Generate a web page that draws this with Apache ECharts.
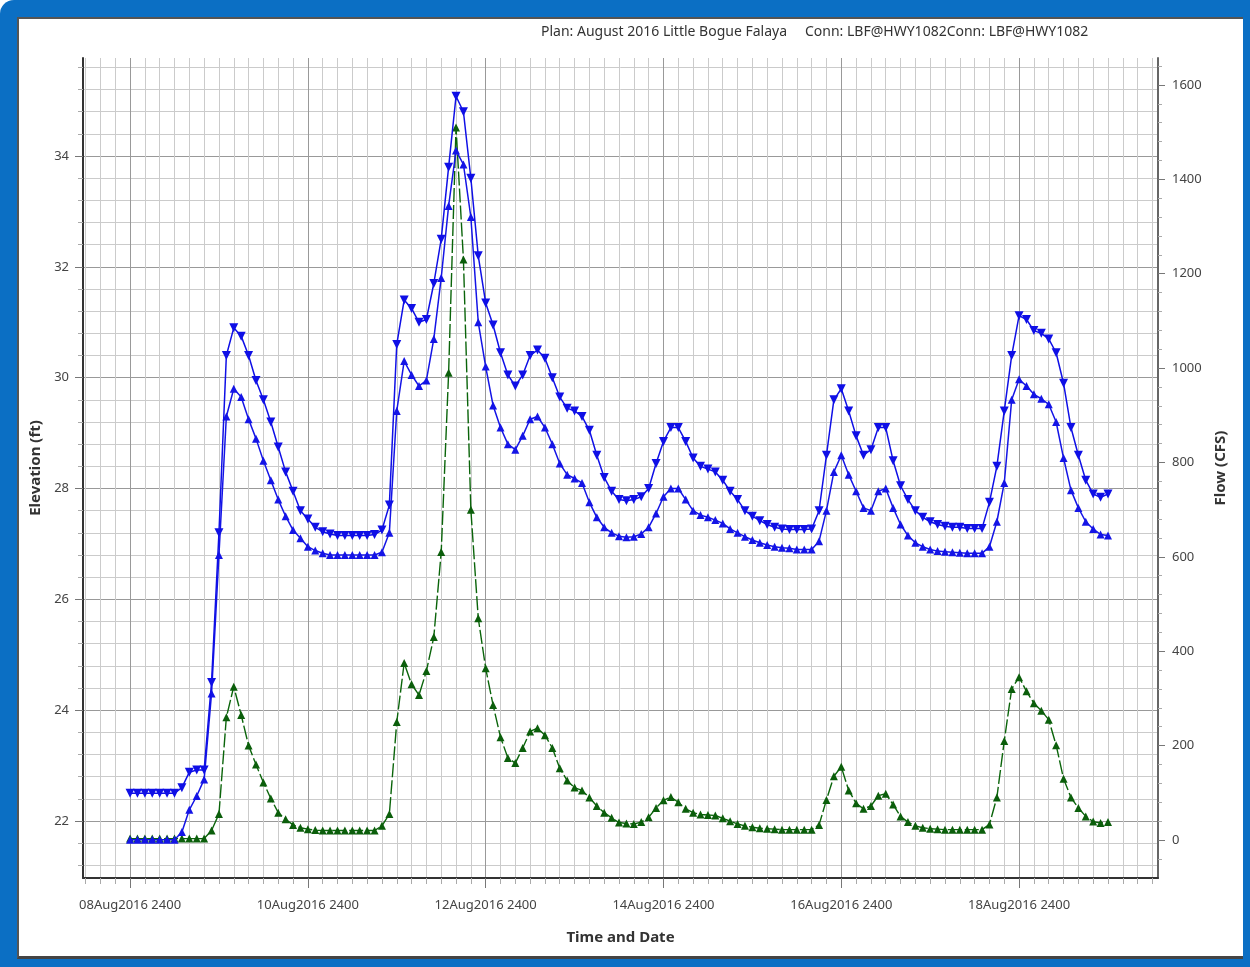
<!DOCTYPE html>
<html><head><meta charset="utf-8">
<script src="https://cdn.jsdelivr.net/npm/echarts@6/dist/echarts.min.js"></script>
<style>
html,body{margin:0;padding:0;width:1250px;height:967px;overflow:hidden;background:#fff}
#frame{position:absolute;left:0;top:0;width:1250px;height:967px;background:#0b6fc4;border-radius:14px 0 0 0}
#inner{position:absolute;left:17px;top:17px;width:1224px;height:937px;background:#fff;border-left:2px solid #555;border-top:2px solid #555;border-bottom:3px solid #444}
#chart{position:absolute;left:0;top:0;width:1250px;height:967px}
</style></head>
<body><div id="frame"></div><div id="inner"></div><div id="chart"></div>
<script>
// time step of the readings (hours from 08Aug2016 2400)
const stepHours = 2;
const xTickHours = [0, 48, 96, 144, 192, 240];
const xTickLabels = ['08Aug2016 2400', '10Aug2016 2400', '12Aug2016 2400', '14Aug2016 2400', '16Aug2016 2400', '18Aug2016 2400'];
const elevTicks = [22, 24, 26, 28, 30, 32, 34];
const flowTicks = [0, 200, 400, 600, 800, 1000, 1200, 1400, 1600];

// Elevation (ft), upper stage (down triangles)
const stageHW = [
 22.5,22.5,22.5,22.5,22.5,22.5,22.5,22.6,22.88,22.92,
 22.92,24.5,27.2,30.4,30.9,30.75,30.4,29.95,29.6,29.2,
 28.75,28.3,27.95,27.6,27.45,27.3,27.22,27.18,27.15,27.15,
 27.15,27.15,27.15,27.17,27.25,27.7,30.6,31.4,31.25,31.0,
 31.05,31.7,32.5,33.8,35.08,34.8,33.6,32.2,31.35,30.95,
 30.45,30.05,29.85,30.05,30.4,30.5,30.35,30.0,29.65,29.45,
 29.4,29.3,29.05,28.6,28.2,27.95,27.8,27.78,27.8,27.85,
 28.0,28.45,28.85,29.1,29.1,28.85,28.55,28.4,28.35,28.3,
 28.15,27.95,27.8,27.6,27.5,27.42,27.35,27.3,27.27,27.26,
 27.26,27.26,27.27,27.6,28.6,29.6,29.8,29.4,28.95,28.6,
 28.7,29.1,29.1,28.5,28.05,27.8,27.6,27.48,27.4,27.35,
 27.32,27.3,27.3,27.28,27.28,27.28,27.75,28.4,29.4,30.4,
 31.12,31.05,30.85,30.8,30.7,30.45,29.9,29.1,28.6,28.15,
 27.9,27.84,27.9
];
// Elevation (ft), lower stage (up triangles)
const stageTW = [
 21.66,21.66,21.66,21.66,21.66,21.66,21.66,21.8,22.2,22.45,
 22.75,24.3,26.8,29.3,29.8,29.65,29.25,28.9,28.5,28.15,
 27.8,27.5,27.25,27.1,26.95,26.88,26.83,26.8,26.8,26.8,
 26.8,26.8,26.8,26.8,26.85,27.2,29.4,30.3,30.05,29.85,
 29.95,30.7,31.8,33.1,34.1,33.85,32.9,31.0,30.2,29.5,
 29.1,28.8,28.7,28.95,29.25,29.3,29.1,28.8,28.45,28.25,
 28.18,28.1,27.75,27.48,27.3,27.2,27.14,27.12,27.13,27.18,
 27.3,27.55,27.85,28.0,28.0,27.8,27.6,27.52,27.48,27.43,
 27.37,27.27,27.2,27.13,27.07,27.02,26.98,26.95,26.93,26.92,
 26.9,26.9,26.9,27.05,27.6,28.3,28.6,28.25,27.95,27.65,
 27.6,27.95,28.0,27.65,27.35,27.15,27.02,26.95,26.9,26.87,
 26.86,26.85,26.84,26.83,26.83,26.83,26.95,27.4,28.1,29.6,
 29.97,29.85,29.7,29.62,29.52,29.2,28.55,27.97,27.65,27.4,
 27.27,27.17,27.15
];
// Flow (CFS)
const flow = [
 3,3,3,3,3,3,3,3,3,3,
 3,20,55,260,325,265,200,160,122,88,
 58,44,32,26,23,21,20,20,20,20,
 20,20,20,20,30,55,250,375,330,307,
 358,430,610,990,1510,1230,700,470,364,286,
 218,174,163,195,230,237,222,195,152,126,
 111,105,90,72,58,47,37,35,34,38,
 48,68,84,91,80,66,58,54,53,52,
 46,40,34,30,27,25,24,23,22,22,
 22,22,22,32,85,135,155,105,78,66,
 72,94,98,75,50,38,30,26,24,23,
 22,22,22,22,22,22,33,90,210,320,
 345,315,290,274,255,201,130,90,68,50,
 39,36,38
];

// minor grid / tick positions
const xMinor = [], yMinor = [], fMinor = [];
for (let h = -12; h <= 276; h += 4) if (h % 48 !== 0) xMinor.push(h);
for (let k = 53; k <= 89; k++) if (k % 5 !== 0) yMinor.push(Math.round(k * 4) / 10);
for (let f = -40; f <= 1640; f += 40) if (f % 200 !== 0) fMinor.push(f);

const FONT = 'Noto Sans';
const labelColor = '#444';
const majorGrid = '#999999', minorGrid = '#cbcbcb';
const X_MIN = -12.7, X_MAX = 277.5, E_MIN = 20.97, E_MAX = 35.77, F_MIN = -80.5, F_MAX = 1657;

const chart = echarts.init(document.getElementById('chart'), null, {renderer: 'canvas'});
const toPairs = arr => arr.map((v, i) => [i * stepHours, v]);

chart.setOption({
  animation: false,
  backgroundColor: 'transparent',
  textStyle: {fontFamily: FONT},
  grid: {left: 83, right: 92, top: 58, bottom: 89, containLabel: false},
  graphic: [
    {type: 'text', left: 541, top: 25, style: {text: 'Plan: August 2016 Little Bogue Falaya', font: '14px "Noto Sans"', fill: '#333'}},
    {type: 'text', left: 805, top: 25, style: {text: 'Conn: LBF@HWY1082Conn: LBF@HWY1082', font: '14px "Noto Sans"', fill: '#333'}}
  ],
  xAxis: [
    {
      type: 'value', min: X_MIN, max: X_MAX, position: 'bottom',
      name: 'Time and Date', nameLocation: 'middle', nameGap: 52,
      nameTextStyle: {fontWeight: 'bold', fontSize: 15, color: '#333', fontFamily: FONT},
      axisLine: {show: true, onZero: false, lineStyle: {color: '#333', width: 2}},
      axisTick: {show: true, customValues: xTickHours, length: 10, lineStyle: {color: '#777'}},
      axisLabel: {customValues: xTickHours, formatter: v => xTickLabels[xTickHours.indexOf(v)], margin: 21, fontSize: 13, color: labelColor, fontFamily: FONT},
      splitLine: {show: true, lineStyle: {color: majorGrid, width: 1}}
    },
    {
      type: 'value', min: X_MIN, max: X_MAX, position: 'bottom',
      axisLine: {show: false, onZero: false},
      axisTick: {show: true, customValues: xMinor, length: 6, lineStyle: {color: '#aaa'}},
      axisLabel: {show: false},
      splitLine: {show: true, lineStyle: {color: minorGrid, width: 1}}
    }
  ],
  yAxis: [
    {
      type: 'value', min: E_MIN, max: E_MAX, position: 'left',
      name: 'Elevation (ft)', nameLocation: 'middle', nameRotate: 90, nameGap: 30,
      nameTextStyle: {fontWeight: 'bold', fontSize: 15, color: '#333', fontFamily: FONT},
      axisLine: {show: true, onZero: false, lineStyle: {color: '#333', width: 2}},
      axisTick: {show: true, customValues: elevTicks, length: 8, lineStyle: {color: '#777'}},
      axisLabel: {customValues: elevTicks, formatter: v => String(v), margin: 14, fontSize: 13, color: labelColor, fontFamily: FONT},
      splitLine: {show: true, lineStyle: {color: majorGrid, width: 1}}
    },
    {
      type: 'value', min: E_MIN, max: E_MAX, position: 'left',
      axisLine: {show: false, onZero: false},
      axisTick: {show: true, customValues: yMinor, length: 5, lineStyle: {color: '#aaa'}},
      axisLabel: {show: false},
      splitLine: {show: true, lineStyle: {color: minorGrid, width: 1}}
    },
    {
      type: 'value', min: F_MIN, max: F_MAX, position: 'right',
      name: 'Flow (CFS)', nameLocation: 'middle', nameRotate: 90, nameGap: 55,
      nameTextStyle: {fontWeight: 'bold', fontSize: 15, color: '#333', fontFamily: FONT},
      axisLine: {show: true, onZero: false, lineStyle: {color: '#666', width: 2}},
      axisTick: {show: true, customValues: flowTicks, length: 7, lineStyle: {color: '#777'}},
      axisLabel: {customValues: flowTicks, formatter: v => String(v), margin: 14, fontSize: 13, color: labelColor, fontFamily: FONT},
      splitLine: {show: false}
    },
    {
      type: 'value', min: F_MIN, max: F_MAX, position: 'right',
      axisLine: {show: false, onZero: false},
      axisTick: {show: true, customValues: fMinor, length: 4, lineStyle: {color: '#aaa'}},
      axisLabel: {show: false},
      splitLine: {show: false}
    }
  ],
  series: [
    {
      name: 'Flow', type: 'line', xAxisIndex: 0, yAxisIndex: 2, data: toPairs(flow),
      symbol: 'triangle', symbolSize: 8, showAllSymbol: true, z: 3,
      lineStyle: {color: '#0a640a', width: 1.4, type: [14, 3]}, itemStyle: {color: '#0b5e0b'}
    },
    {
      name: 'Stage TW', type: 'line', xAxisIndex: 0, yAxisIndex: 0, data: toPairs(stageTW),
      symbol: 'triangle', symbolSize: 8, showAllSymbol: true, z: 4,
      lineStyle: {color: '#1414e6', width: 1.5}, itemStyle: {color: '#1414e6'}
    },
    {
      name: 'Stage HW', type: 'line', xAxisIndex: 0, yAxisIndex: 0, data: toPairs(stageHW),
      symbol: 'triangle', symbolRotate: 180, symbolSize: 9, showAllSymbol: true, z: 5,
      lineStyle: {color: '#0f0fe6', width: 1.5}, itemStyle: {color: '#0f0fe6'}
    }
  ]
});
</script></body></html>
